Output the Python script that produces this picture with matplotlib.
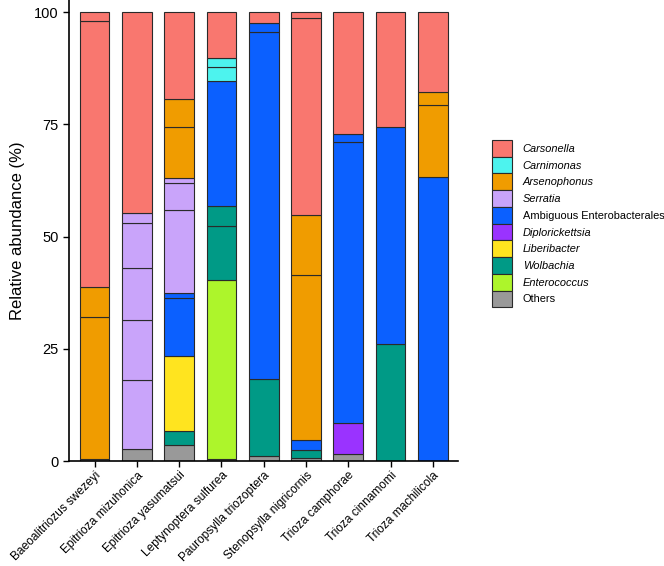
import matplotlib
matplotlib.use('Agg')
import matplotlib.pyplot as plt
from matplotlib.patches import Patch

plt.rcParams['font.family'] = ['Liberation Sans', 'DejaVu Sans']

# taxa in legend order (top to bottom) and their colours
taxa = ['Carsonella', 'Carnimonas', 'Arsenophonus', 'Serratia',
        'Ambiguous Enterobacterales', 'Diplorickettsia', 'Liberibacter',
        'Wolbachia', 'Enterococcus', 'Others']
colors = ['#F9776F', '#4DF3EE', '#F09C00', '#C9A4FA', '#0B60FF',
          '#9A33FF', '#FFE41F', '#009A86', '#ADF52B', '#999999']
italic_taxa = ['Carsonella', 'Carnimonas', 'Arsenophonus', 'Serratia',
               'Diplorickettsia', 'Liberibacter', 'Wolbachia', 'Enterococcus']

species = ['Baeoalitriozus swezeyi', 'Epitrioza mizuhonica', 'Epitrioza yasumatsui',
           'Leptynoptera sulfurea', 'Pauropsylla triozoptera', 'Stenopsylla nigricornis',
           'Trioza camphorae', 'Trioza cinnamomi', 'Trioza machilicola']

# stacked segments per host, bottom to top (taxon, relative abundance %)
swezeyi = [('Others', 0.4), ('Arsenophonus', 31.6), ('Arsenophonus', 6.85),
           ('Carsonella', 59.25), ('Carsonella', 1.9)]
mizuhonica = [('Others', 2.6), ('Serratia', 15.45), ('Serratia', 13.3), ('Serratia', 11.65),
              ('Serratia', 10.1), ('Serratia', 2.25), ('Carsonella', 44.65)]
yasumatsui = [('Others', 3.5), ('Wolbachia', 3.2), ('Liberibacter', 16.8),
              ('Ambiguous Enterobacterales', 12.75), ('Ambiguous Enterobacterales', 1.1),
              ('Serratia', 18.55), ('Serratia', 6.1), ('Serratia', 1.1),
              ('Arsenophonus', 11.4), ('Arsenophonus', 6.2), ('Carsonella', 19.3)]
sulfurea = [('Others', 0.4), ('Enterococcus', 39.9), ('Wolbachia', 12.0), ('Wolbachia', 4.6),
            ('Ambiguous Enterobacterales', 27.8), ('Carnimonas', 3.1), ('Carnimonas', 1.9),
            ('Carsonella', 10.3)]
triozoptera = [('Others', 1.05), ('Wolbachia', 17.3), ('Ambiguous Enterobacterales', 77.15),
               ('Ambiguous Enterobacterales', 2.0), ('Carsonella', 2.5)]
nigricornis = [('Others', 0.6), ('Wolbachia', 1.8), ('Ambiguous Enterobacterales', 2.2),
               ('Arsenophonus', 36.8), ('Arsenophonus', 13.4), ('Carsonella', 43.85),
               ('Carsonella', 1.35)]
camphorae = [('Others', 1.5), ('Diplorickettsia', 6.9), ('Ambiguous Enterobacterales', 62.6),
             ('Ambiguous Enterobacterales', 1.9), ('Carsonella', 27.1)]
cinnamomi = [('Wolbachia', 26.0), ('Ambiguous Enterobacterales', 48.5), ('Carsonella', 25.5)]
machilicola = [('Ambiguous Enterobacterales', 63.2), ('Arsenophonus', 16.1),
               ('Arsenophonus', 2.9), ('Carsonella', 17.8)]

bars = [swezeyi, mizuhonica, yasumatsui, sulfurea, triozoptera,
        nigricornis, camphorae, cinnamomi, machilicola]


def main():
    color_of = dict(zip(taxa, colors))
    fig = plt.figure(figsize=(6.64, 5.66), dpi=100)
    ax = fig.add_axes([0.1044, 0.1855, 0.585, 0.8145])

    for i, segs in enumerate(bars):
        bottom = 0
        for taxon, val in segs:
            ax.bar(i, val, bottom=bottom, width=0.7, color=color_of[taxon],
                   edgecolor='#2a2a2a', linewidth=0.8)
            bottom += val

    ax.set_xlim(-0.6, 8.59)
    ax.set_ylim(0, 102.7)
    ax.set_yticks([0, 25, 50, 75, 100])
    ax.set_xticks(range(len(species)))
    ax.set_xticklabels(species, rotation=45, ha='right', va='top',
                       rotation_mode='anchor', fontsize=8.6)
    ax.tick_params(axis='y', labelsize=10.5, width=1, length=4)
    ax.tick_params(axis='x', width=1, length=4, pad=2)
    ax.set_ylabel('Relative abundance (%)', fontsize=12, labelpad=7)
    for s in ['top', 'right']:
        ax.spines[s].set_visible(False)
    for s in ['left', 'bottom']:
        ax.spines[s].set_linewidth(1.2)

    handles = [Patch(facecolor=c, edgecolor='#2a2a2a', linewidth=0.8) for c in colors]
    leg = fig.legend(handles, taxa, loc='upper left', bbox_to_anchor=(0.7405, 0.7527),
                     frameon=False, fontsize=7.9, handlelength=1.82, handleheight=1.97,
                     labelspacing=0, handletextpad=1.0, borderpad=0, borderaxespad=0)
    for t in leg.get_texts():
        if t.get_text() in italic_taxa:
            t.set_style('italic')

    fig.savefig('out.png', dpi=100)


if __name__ == '__main__':
    main()
